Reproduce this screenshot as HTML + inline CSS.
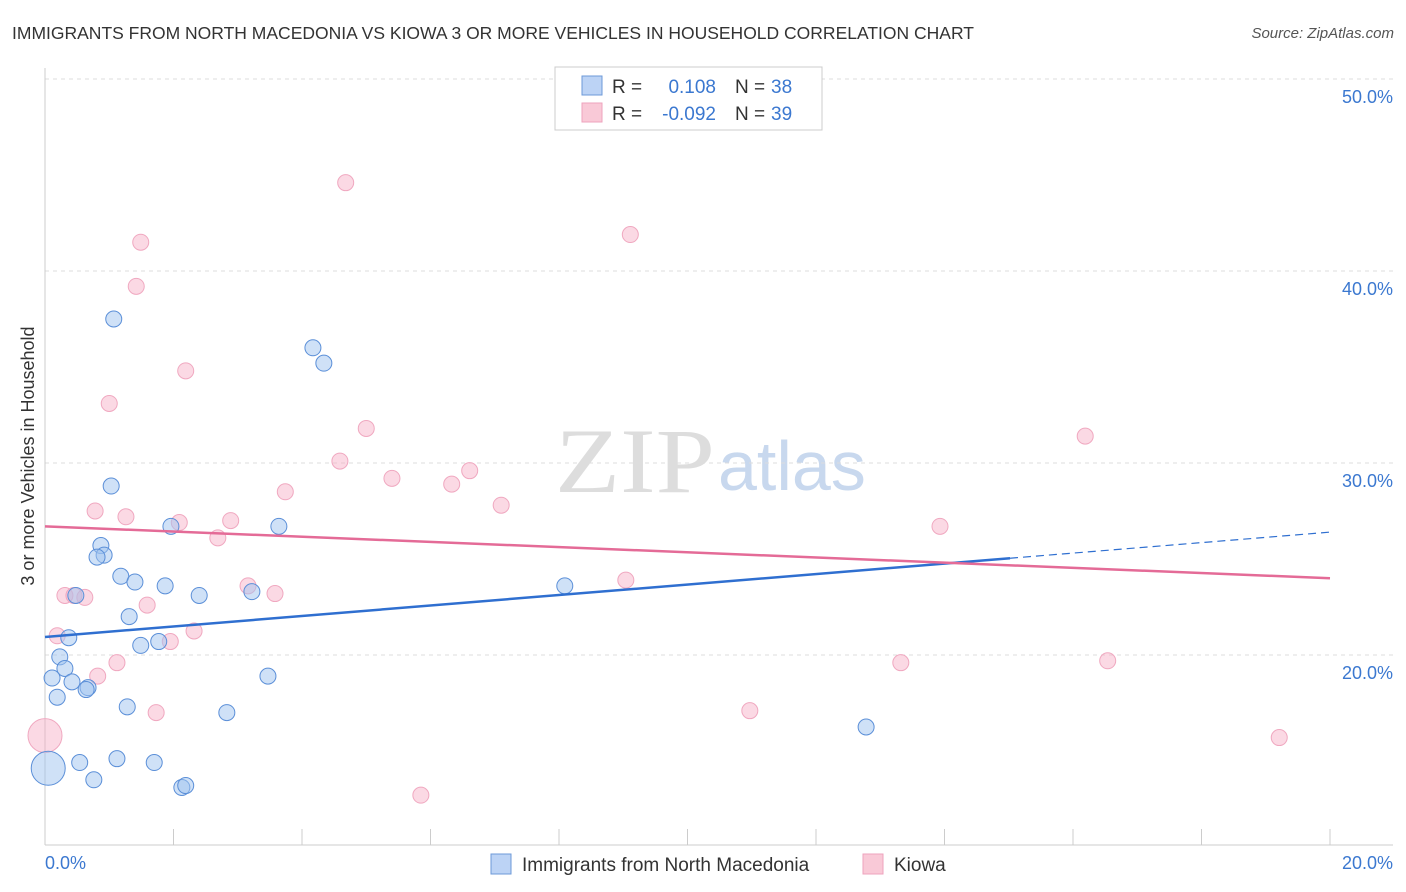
<!DOCTYPE html>
<html><head><meta charset="utf-8"><style>
body{margin:0;background:#fff;font-family:"Liberation Sans",sans-serif;}
#wrap{position:relative;width:1406px;height:892px;overflow:hidden;}
.t{position:absolute;white-space:nowrap;}
</style></head><body>
<div id="wrap">
<div class="t" style="left:12px;top:23px;font-size:17.5px;color:#333;">IMMIGRANTS FROM NORTH MACEDONIA VS KIOWA 3 OR MORE VEHICLES IN HOUSEHOLD CORRELATION CHART</div>
<div class="t" style="right:12px;top:25px;font-size:15px;color:#555;font-style:italic;">Source: ZipAtlas.com</div>
<svg id="svg" width="1406" height="892" style="position:absolute;left:0;top:0"></svg>
</div>
<script>
const xTicks=[0,2,4,6,8,10,12,14,16,18,20];
const yTicks=[20,30,40,50];
const blueX=[1.07,4.17,4.34,1.03,1.96,3.64,0.87,0.92,0.81,1.18,1.40,1.87,0.48,2.40,3.22,1.31,0.37,1.49,1.77,0.23,0.31,0.11,0.42,0.67,0.64,0.19,3.47,1.28,2.83,8.09,12.78,0.54,1.12,1.70,0.76,2.13,2.19,0.05];
const blueY=[37.5,36.0,35.2,28.8,26.7,26.7,25.7,25.2,25.1,24.1,23.8,23.6,23.1,23.1,23.3,22.0,20.9,20.5,20.7,19.9,19.3,18.8,18.6,18.3,18.2,17.8,18.9,17.3,17.0,23.6,16.25,14.4,14.6,14.4,13.5,13.1,13.2,14.1];
const pinkX=[4.68,9.11,1.49,1.42,2.19,1.00,5.00,4.59,6.61,5.40,6.33,3.74,7.10,0.78,1.26,2.09,2.89,2.69,13.93,16.19,3.16,3.58,9.04,0.31,0.45,0.62,1.59,2.32,1.95,0.19,1.12,0.82,13.32,16.54,1.73,10.97,19.21,5.85,0.0];
const pinkY=[44.6,41.9,41.5,39.2,34.8,33.1,31.8,30.1,29.6,29.2,28.9,28.5,27.8,27.5,27.2,26.9,27.0,26.1,26.7,31.4,23.6,23.2,23.9,23.1,23.1,23.0,22.6,21.25,20.7,21.0,19.6,18.9,19.6,19.7,17.0,17.1,15.7,12.7,15.8];
const blueTrend=[20.94,26.4], pinkTrend=[26.7,24.0], blueSolidEnd=15.02;
const sx=v=>45+v*64.25, sy=v=>655-(v-20)*19.2;
const svg=document.getElementById('svg');const NS='http://www.w3.org/2000/svg';
function mk(tag,attrs,name){const e=document.createElementNS(NS,tag);for(const k in attrs)e.setAttribute(k,attrs[k]);


svg.appendChild(e);return e;}
mk('text',{x:555,y:492,'font-size':92,fill:'#ddd','font-family':'Liberation Serif',textLength:160,lengthAdjust:'spacingAndGlyphs'},'watermark-zip').textContent='ZIP';
mk('text',{x:718,y:490,'font-size':70,fill:'#c8d8ee','font-family':'Liberation Sans'},'watermark-atlas').textContent='atlas';
yTicks.forEach(v=>{mk('line',{x1:45,x2:1393,y1:sy(v),y2:sy(v),stroke:'#ddd','stroke-dasharray':'4,4'},'gridline');
const t=mk('text',{x:1393,y:sy(v)+24,'text-anchor':'end','font-size':18,fill:'#3b78d0'},'y-tick-label');t.textContent=v.toFixed(1)+'%';});
mk('line',{x1:45,x2:45,y1:68,y2:845,stroke:'#ccc'},'y-axis');
mk('line',{x1:45,x2:1393,y1:845,y2:845,stroke:'#ccc'},'x-axis');
xTicks.forEach(v=>mk('line',{x1:sx(v),x2:sx(v),y1:829,y2:845,stroke:'#ccc'},'x-tick'));
let t=mk('text',{x:45,y:869,'font-size':18,fill:'#3b78d0'},'x-tick-label');t.textContent='0.0%';
t=mk('text',{x:1393,y:869,'text-anchor':'end','font-size':18,fill:'#3b78d0'},'x-tick-label');t.textContent='20.0%';
t=mk('text',{x:34,y:456,'font-size':18,fill:'#333','text-anchor':'middle',transform:'rotate(-90 34 456)'},'y-axis-title');t.textContent='3 or more Vehicles in Household';
pinkX.forEach((x,i)=>mk('circle',{cx:sx(x),cy:sy(pinkY[i]),r:i==pinkX.length-1?17:8,fill:'rgba(246,170,195,0.45)',stroke:'#f0a8c0','stroke-width':1},'kiowa-point'));
blueX.forEach((x,i)=>mk('circle',{cx:sx(x),cy:sy(blueY[i]),r:i==blueX.length-1?17:8,fill:'rgba(160,195,240,0.5)',stroke:'#5b8fd8','stroke-width':1},'macedonia-point'));
const by=x=>blueTrend[0]+(blueTrend[1]-blueTrend[0])*x/20;
mk('line',{x1:sx(0),y1:sy(by(0)),x2:sx(blueSolidEnd),y2:sy(by(blueSolidEnd)),stroke:'#2f6fd0','stroke-width':2.5},'macedonia-trendline');
mk('line',{x1:sx(blueSolidEnd),y1:sy(by(blueSolidEnd)),x2:sx(20),y2:sy(by(20)),stroke:'#2f6fd0','stroke-width':1.2,'stroke-dasharray':'8,5'},'macedonia-trendline-ext');
mk('line',{x1:sx(0),y1:sy(pinkTrend[0]),x2:sx(20),y2:sy(pinkTrend[1]),stroke:'#e46b97','stroke-width':2.5},'kiowa-trendline');
mk('rect',{x:555,y:67,width:267,height:63,fill:'#fff',stroke:'#ccc'},'legend-box');
mk('rect',{x:582,y:76,width:20,height:19,fill:'#bcd3f5',stroke:'#6d9ad8'},'legend-swatch-blue');
mk('rect',{x:582,y:103,width:20,height:19,fill:'#f9c9d7',stroke:'#eea3bd'},'legend-swatch-pink');
function lt(x,y,s,c,n,a){const e=mk('text',{x:x,y:y,'font-size':19,fill:c,'text-anchor':a||'start'},n);e.textContent=s;}
lt(612,93,'R =','#333','legend-r-label');lt(716,93,'0.108','#3b78d0','legend-r-blue','end');lt(735,93,'N =','#333','legend-n-label');lt(771,93,'38','#3b78d0','legend-n-blue');
lt(612,120,'R =','#333','legend-r-label');lt(716,120,'-0.092','#3b78d0','legend-r-pink','end');lt(735,120,'N =','#333','legend-n-label');lt(771,120,'39','#3b78d0','legend-n-pink');
mk('rect',{x:491,y:854,width:20,height:20,fill:'#bcd3f5',stroke:'#6d9ad8'},'bottom-legend-swatch-blue');
lt(522,871,'Immigrants from North Macedonia','#333','bottom-legend-blue');
mk('rect',{x:863,y:854,width:20,height:20,fill:'#f9c9d7',stroke:'#eea3bd'},'bottom-legend-swatch-pink');
lt(894,871,'Kiowa','#333','bottom-legend-pink');
</script>
</body></html>
